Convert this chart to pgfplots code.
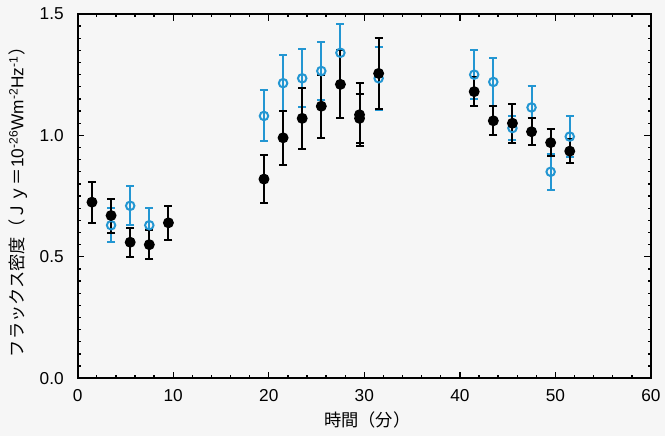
\documentclass[border=0pt]{standalone}
\usepackage{fontspec}
\setmainfont{Liberation Sans}
\newfontfamily\jp{Noto Sans CJK JP}
\usepackage{pgfplots}
\usepackage{pgfplotstable}
\pgfplotsset{compat=1.18}
\usetikzlibrary{backgrounds}
\definecolor{obsblue}{RGB}{35,150,210}
\definecolor{paper}{RGB}{246,246,246}

% x  y  err
\pgfplotstableread{
x y e
1.5 0.725 0.085
3.5 0.67 0.07
5.5 0.56 0.06
7.5 0.55 0.06
9.5 0.64 0.07
19.5 0.82 0.10
21.5 0.99 0.11
23.5 1.07 0.125
25.5 1.12 0.13
27.5 1.21 0.14
29.5 1.085 0.13
29.5 1.07 0.10
31.5 1.255 0.145
41.5 1.18 0.06
43.5 1.06 0.06
45.5 1.05 0.08
47.5 1.015 0.055
49.5 0.97 0.055
51.5 0.935 0.05
}\blackdata

\pgfplotstableread{
x y e
3.5 0.63 0.07
5.5 0.71 0.08
7.5 0.63 0.07
19.5 1.08 0.105
21.5 1.215 0.115
23.5 1.235 0.12
25.5 1.265 0.12
27.5 1.34 0.12
31.5 1.235 0.13
41.5 1.25 0.10
43.5 1.22 0.10
45.5 1.03 0.05
47.5 1.115 0.09
49.5 0.85 0.075
51.5 0.995 0.085
}\bluedata

\begin{document}
\begin{tikzpicture}[background rectangle/.style={fill=paper}, show background rectangle, inner frame sep=0pt]
% page frame, same proportions as the reference
\path (-58.5pt,-43.5pt) rectangle (440.25pt,285pt);
\begin{axis}[
    at={(0,0)}, anchor=south west,
    scale only axis,
    width=432pt, height=274.5pt,
    xmin=0, xmax=60, ymin=0, ymax=1.5,
    xtick={0,10,...,60},
    ytick={0,0.5,1,1.5},
    minor x tick num=4,
    minor y tick num=9,
    major tick length=5pt,
    minor tick length=2.5pt,
    axis line style={line width=1.4pt},
    every tick/.style={line width=1pt, black},
    /pgf/number format/assume math mode=true,
    tick label style={font=\fontsize{13}{15}\selectfont},
    xticklabel style={yshift=-5pt},
    yticklabel style={xshift=-7pt, /pgf/number format/.cd, fixed, fixed zerofill, precision=1},
    label style={font=\fontsize{13}{15}\selectfont},
    xlabel={{\jp 時間（分）}},
    ylabel={{\jp フラックス密度（Ｊｙ＝}10\textsuperscript{-26}Wm\textsuperscript{-2}Hz\textsuperscript{-1}{\jp ）}},
    xlabel style={at={(axis description cs:0.505,-0.115)}, anchor=center},
    ylabel style={at={(axis description cs:-0.104,0.495)}, anchor=center},
    clip=false,
]
\addplot[obsblue, line width=1.5pt, only marks, mark=o, mark size=3.2pt,
    mark options={line width=1.5pt, fill=paper},
    error bars/.cd, y dir=both, y explicit,
    error bar style={line width=1.5pt, obsblue},
    error mark options={rotate=90, mark size=3pt, line width=1.5pt, obsblue}]
    table[x=x, y=y, y error=e] {\bluedata};
\addplot[black, line width=1pt, only marks, mark=*, mark size=3.6pt,
    error bars/.cd, y dir=both, y explicit,
    error bar style={line width=1.5pt, black},
    error mark options={rotate=90, mark size=3pt, line width=1.5pt, black}]
    table[x=x, y=y, y error=e] {\blackdata};
\end{axis}
\end{tikzpicture}
\end{document}
